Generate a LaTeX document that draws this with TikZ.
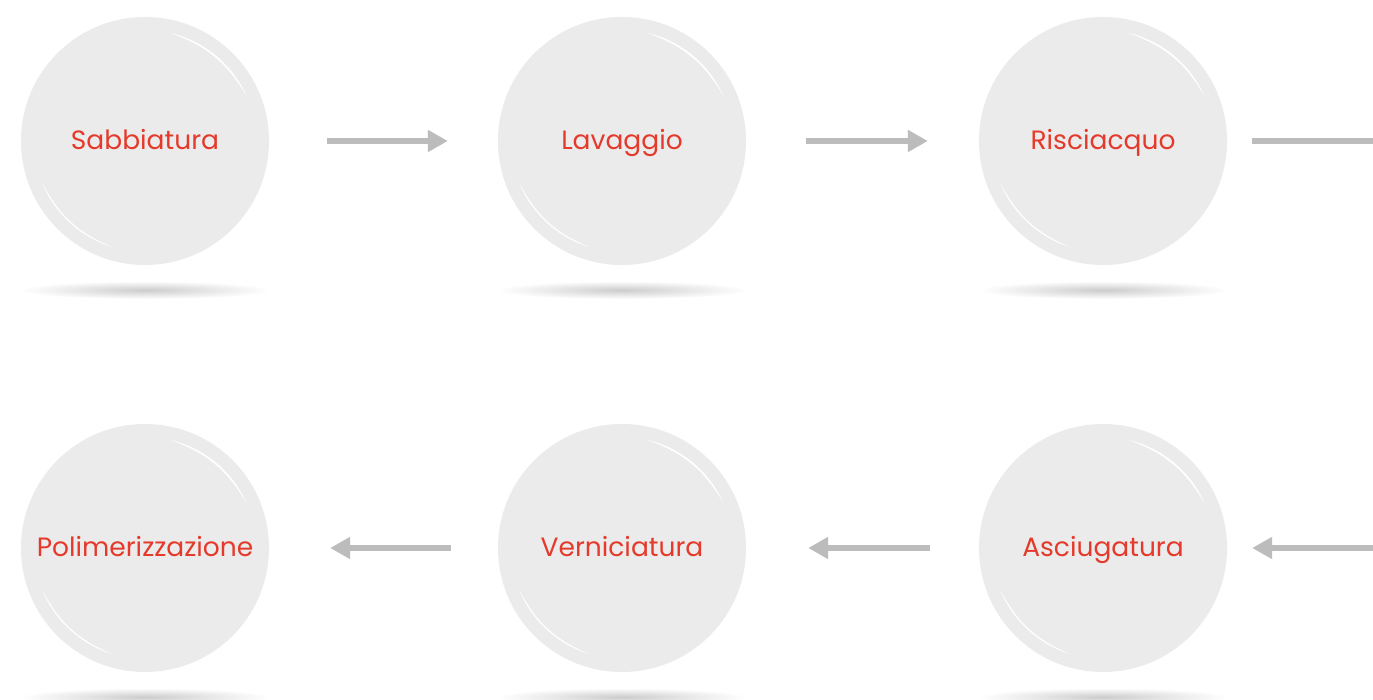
\documentclass[tikz,border=0pt]{standalone}
\usepackage{fontspec}
\setmainfont{Poppins}
\usetikzlibrary{arrows.meta,calc}
\definecolor{bubble}{HTML}{EBEBEB}
\definecolor{lab}{HTML}{E53A2B}
\definecolor{arrg}{HTML}{BCBCBD}
\tikzset{
  bub/.style={circle, fill=bubble, minimum size=248pt, inner sep=0pt, text=lab,
    font=\fontsize{26.5}{30}\selectfont, text height=18pt, text depth=0pt},
  arr/.style={draw=arrg, line width=6pt, -{Triangle[length=20pt,width=21pt]}},
}
\newcommand{\bubdeco}[1]{%
  \fill[white] ($(#1)+(24:111)$) arc (24:77:111) to[bend left=20] ($(#1)+(24:111)$);
  \fill[white] ($(#1)+(202:111)$) arc (202:253:111) to[bend left=20] ($(#1)+(202:111)$);
}
\begin{document}
\begin{tikzpicture}[x=1pt,y=1pt]
\useasboundingbox (0,0) rectangle (1373,700);
\clip (0,0) rectangle (1373,700);
\fill[white] (0,0) rectangle (1373,700);
% shadows
\foreach \x in {145,622,1103}{
  \shade[inner color=black!20, outer color=white] (\x,410) ellipse (125 and 9);
  \shade[inner color=black!20, outer color=white] (\x,3) ellipse (125 and 9);
}
\node[bub] (s1) at (145,559) {Sabbiatura};
\node[bub] (s2) at (622,559) {Lavaggio};
\node[bub] (s3) at (1103,559) {Risciacquo};
\node[bub] (s4) at (1103,152) {Asciugatura};
\node[bub] (s5) at (622,152) {Verniciatura};
\node[bub] (s6) at (145,152) {Polimerizzazione};
\bubdeco{s1}\bubdeco{s2}\bubdeco{s3}\bubdeco{s4}\bubdeco{s5}\bubdeco{s6}
\coordinate (outT) at (1500,559);
\coordinate (outB) at (1500,152);
\draw[arr] ([xshift=58pt]s1.east) -- ([xshift=-50pt]s2.west);
\draw[arr] ([xshift=60pt]s2.east) -- ([xshift=-51pt]s3.west);
\draw[arr] ([xshift=25pt]s3.east) -- (outT);
\draw[arr] (outB) -- ([xshift=25pt]s4.east);
\draw[arr] ([xshift=-49pt]s4.west) -- ([xshift=62pt]s5.east);
\draw[arr] ([xshift=-47pt]s5.west) -- ([xshift=61pt]s6.east);
\end{tikzpicture}
\end{document}
